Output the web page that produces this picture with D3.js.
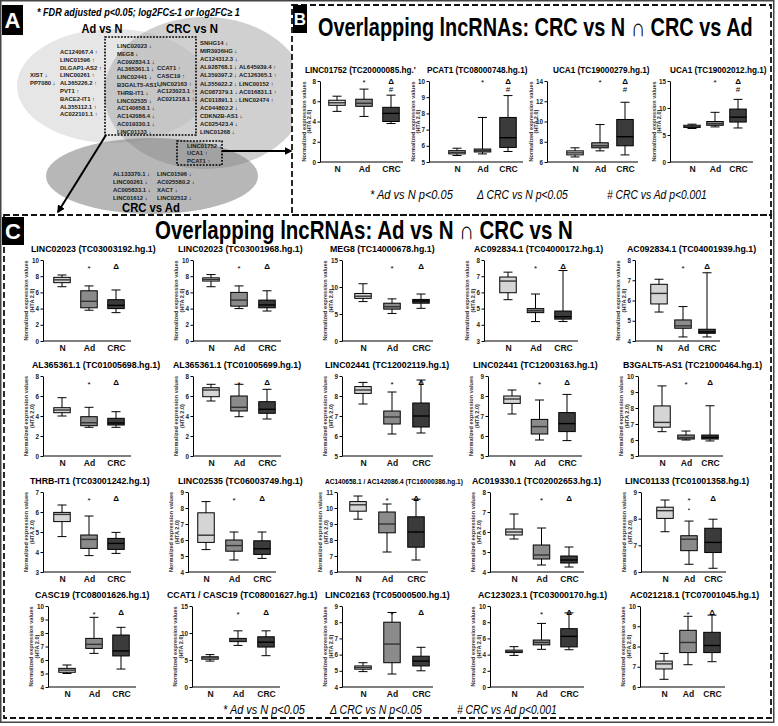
<!DOCTYPE html>
<html><head><meta charset="utf-8">
<script src="https://cdn.jsdelivr.net/npm/d3@7"></script>
<style>
body{margin:0;background:#fff}
svg{display:block}
text{font-family:'Liberation Sans',Arial,Helvetica,sans-serif}
</style>
</head><body>
<svg id="fig" width="778" height="726"></svg>
<script>
// ---------------- DATA ----------------
const groups = ["N","Ad","CRC"];

// Panel A gene lists
const adOnlyLeft = [["XIST","↓"],["PP7080","↓"]];
const adOnly = [["AC124067.4","↑"],["LINC01596","↑"],["DLGAP1-AS2","↑"],["LINC00261","↑"],["AL365226.2","↑"],["PVT1","↑"],["BACE2-IT1","↑"],["AL355112.1","↑"],["AC022101.1","↑"]];
const adCrcDown = ["LINC02023","MEG8","AC092834.1","AL365361.1","LINC02441","B3GALT5-AS1","THRB-IT1","LINC02535","AC140658.1","AC142086.4","AC019330.1","LINC01133"];
const adCrcUp = ["CCAT1","CASC19","LINC02163","AC123023.1","AC021218.1"];
const crcOnlyDown = ["SNHG14","MIR3936HG","AC124312.3","AL928768.1","AL359397.2","AL355922.2","AC087379.1","AC011891.1","AC044802.2","CDKN2B-AS1","AC025423.4","LINC01268"];
const crcOnlyUp = ["AL645939.4","AC126365.1","LINC00152","AC016831.1","LINC02474"];
const crcBoth = [["LINC01752","↓"],["UCA1","↑"],["PCAT1","↑"]];
const crcAdCol1 = ["AL133370.1","LINC00261","AC005833.1","LINC01612"];
const crcAdCol2 = ["LINC01596","AC025580.2","XACT","LINC02512"];

// Panel B: [lowWhisker, Q1, median, Q3, highWhisker] for N, Ad, CRC
const bTitles = ["LINC01752 (TC20000085.hg.'","PCAT1 (TC08000748.hg.1)","UCA1 (TC19000279.hg.1)","UCA1 (TC19002012.hg.1)"];
const bDomains = [[0,8],[5,10],[6,14],[0,15]];
const bTicks = [[0,2,4,6,8],[5,6,7,8,9,10],[6,8,10,12,14],[0,5,10,15]];
const bStats = [
  [[5.0,5.6,5.85,6.1,6.5],[4.5,5.5,5.8,6.2,7.2],[3.8,4.0,4.8,5.4,6.6]],
  [[5.4,5.5,5.6,5.7,5.85],[5.5,5.62,5.7,5.8,7.75],[5.65,5.9,6.5,7.75,9.1]],
  [[6.5,6.7,6.9,7.1,7.4],[7.1,7.4,7.6,7.9,9.7],[6.7,7.6,8.5,10.2,11.9]],
  [[6.2,6.4,6.6,6.8,7.0],[6.5,6.8,7.1,7.5,9.2],[6.3,7.4,8.3,9.8,11.6]]
];

// Panel C
const cTitles = [
  "LINC02023 (TC03003192.hg.1)","LINC02023 (TC03001968.hg.1)","MEG8 (TC14000678.hg.1)","AC092834.1 (TC04000172.hg.1)","AC092834.1 (TC04001939.hg.1)",
  "AL365361.1 (TC01005698.hg.1)","AL365361.1 (TC01005699.hg.1)","LINC02441 (TC12002119.hg.1)","LINC02441 (TC12003163.hg.1)","B3GALT5-AS1 (TC21000464.hg.1)",
  "THRB-IT1 (TC03001242.hg.1)","LINC02535 (TC06003749.hg.1)","AC140658.1 / AC142086.4 (TC16000386.hg.1)","AC019330.1 (TC02002653.hg.1)","LINC01133 (TC01001358.hg.1)",
  "CASC19 (TC08001626.hg.1)","CCAT1 / CASC19 (TC08001627.hg.1)","LINC02163 (TC05000500.hg.1)","AC123023.1 (TC03000170.hg.1)","AC021218.1 (TC07001045.hg.1)"
];
const cDomains = [
  [0,10],[0,10],[0,15],[3,8],[4,8],
  [0,8],[0,8],[5,9],[5,9],[5,10],
  [3,7],[4,9],[6,11],[4,8],[6,9],
  [4,10],[0,15],[4,9],[0,10],[6,10]
];
const cTicks = [
  [0,2,4,6,8,10],[0,2,4,6,8,10],[0,5,10,15],[3,4,5,6,7,8],[4,5,6,7,8],
  [0,2,4,6,8],[0,2,4,6,8],[5,6,7,8,9],[5,6,7,8,9],[5,6,7,8,9,10],
  [3,4,5,6,7],[4,5,6,7,8,9],[6,7,8,9,10,11],[4,5,6,7,8],[6,7,8,9],
  [4,5,6,7,8,9,10],[0,5,10,15],[4,5,6,7,8,9],[0,2,4,6,8,10],[6,7,8,9,10]
];
const cStats = [
  [[6.7,7.2,7.55,7.86,8.15],[3.8,4.1,4.9,6.2,6.8],[3.5,4.0,4.4,5.1,6.3]],
  [[6.7,7.4,7.6,7.8,8.2],[4.0,4.3,5.05,6.0,6.8],[3.7,4.1,4.45,5.05,6.2]],
  [[7.3,7.9,8.3,8.8,10.6],[5.1,5.9,6.35,7.0,7.8],[6.05,7.0,7.4,7.7,8.7]],
  [[5.55,5.98,6.7,6.95,7.25],[4.2,4.75,4.87,5.0,5.9],[4.2,4.35,4.5,4.85,7.35]],
  [[5.43,5.83,6.35,6.8,7.05],[4.2,4.63,4.75,5.04,5.7],[4.2,4.38,4.45,4.58,7.37]],

  [[4.0,4.33,4.6,4.83,5.83],[2.87,3.03,3.33,3.93,4.87],[2.87,3.1,3.3,3.77,4.43]],
  [[5.5,5.93,6.6,6.83,7.17],[3.93,4.5,4.87,6.0,7.17],[3.7,4.27,4.67,5.43,6.67]],
  [[7.6,8.13,8.3,8.47,8.68],[6.1,6.6,6.95,7.25,8.2],[6.15,6.45,7.0,7.65,8.8]],
  [[7.1,7.63,7.85,8.0,8.3],[5.8,6.1,6.47,6.83,7.8],[5.77,6.22,6.62,7.17,8.08]],
  [[6.52,6.8,7.1,8.13,9.38],[6.0,6.06,6.15,6.31,6.56],[5.94,6.06,6.16,6.31,8.14]],

  [[4.77,5.52,5.88,5.98,6.35],[3.82,4.18,4.63,4.85,5.8],[3.93,4.13,4.43,4.68,4.98]],
  [[5.4,5.85,6.3,7.7,8.4],[4.75,5.3,5.65,6.0,6.5],[4.85,5.1,5.45,5.95,6.5]],
  [[9.3,9.8,10.2,10.4,10.75],[7.25,8.45,9.0,9.75,10.25],[6.75,7.55,8.5,9.45,10.55]],
  [[5.65,5.85,6.0,6.15,6.9],[4.35,4.65,4.85,5.35,6.2],[4.25,4.45,4.6,4.8,5.25]],
  [[7.51,8.01,8.3,8.43,8.7],[6.29,6.8,7.23,7.36,7.91],[6.14,6.73,7.11,7.64,7.98]],

  [[5.0,5.09,5.25,5.38,5.63],[6.49,6.86,7.16,7.6,9.16],[5.33,6.3,6.67,7.85,8.42]],
  [[4.8,5.15,5.4,5.6,6.0],[7.7,8.4,8.7,9.0,10.4],[5.8,7.4,8.3,9.3,10.4]],
  [[4.95,5.1,5.2,5.3,5.5],[4.8,5.5,6.65,8.0,8.6],[5.0,5.3,5.6,5.9,6.45]],
  [[3.9,4.25,4.4,4.55,4.98],[4.65,5.2,5.5,5.8,7.85],[4.6,4.95,6.25,7.2,9.15]],
  [[6.38,6.89,7.14,7.28,7.66],[7.1,7.7,8.2,8.8,9.49],[7.25,7.7,8.05,8.7,9.55]]
];
// outlier points: [chart index, group, value]
const cOutliers = [[14,"Ad",8.35]];

const legendItems = ["* Ad vs N p<0.05","Δ CRC vs N p<0.05","# CRC vs Ad p<0.001"];

// ---------------- LAYOUT ----------------
const svg = d3.select("#fig");
const fillCols = {"N":"#d5d5d5","Ad":"#8b8b8b","CRC":"#3b3b3b"};

// text squeezed horizontally to a target width (keeps real geometry)
function fitText(parent, str, x, y, width, attrs, anchor){
  const t = parent.append("text").text(str);
  Object.entries(attrs).forEach(([k,v])=>t.attr(k,v));
  const w = t.node().getComputedTextLength();
  const k = width / w;
  const x0 = anchor==="middle" ? x - width/2 : x;
  t.attr("transform",`translate(${x0},${y}) scale(${k},1)`);
  return t;
}

svg.append("rect").attr("x",0.75).attr("y",0.75).attr("width",773).attr("height",721.5)
  .attr("fill","#fff").attr("stroke","#444").attr("stroke-width",1.5);

// ---------- Panel A : Venn ----------
const clipA = svg.append("clipPath").attr("id","clipA");
clipA.append("rect").attr("x",1).attr("y",1).attr("width",291).attr("height",214);
const venn = svg.append("g").attr("clip-path","url(#clipA)");
venn.append("ellipse").attr("cx",113).attr("cy",86).attr("rx",96).attr("ry",57).attr("fill","#e6e6e6");
venn.append("ellipse").attr("cx",205).attr("cy",93).attr("rx",101).attr("ry",76).attr("fill","#b0b0b0").attr("fill-opacity",0.6);
venn.append("ellipse").attr("cx",152).attr("cy",176).attr("rx",106).attr("ry",38).attr("fill","#7c7c7c").attr("fill-opacity",0.55);

const boldAttrs = {"font-size":12,"font-weight":"bold"};
fitText(svg,"Ad vs N",102,33,41,boldAttrs,"middle");
fitText(svg,"CRC vs N",192,33,52,boldAttrs,"middle");
fitText(svg,"CRC vs Ad",151,212,58,boldAttrs,"middle");

fitText(svg,"* FDR adjusted p<0.05; log2FC≤-1 or log2FC≥ 1",37,16,203,
  {"font-size":10.5,"font-style":"italic","font-weight":"bold"});

function geneCol(list, x, y0, dy, arrow){
  list.forEach((d,i)=>{
    const name = Array.isArray(d)? d[0] : d;
    const ar = Array.isArray(d)? d[1] : arrow;
    svg.append("text").attr("x",x).attr("y",y0+i*dy).attr("font-size",5.9).attr("font-weight","bold")
      .attr("fill","#1a1a1a").text(name+" "+ar);
  });
}
geneCol(adOnly, 60, 54, 7.8);
geneCol(adOnlyLeft, 30, 54+3*7.8, 7.8);
geneCol(adCrcDown, 117, 48, 7.8, "↓");
geneCol(adCrcUp, 157, 48+3*7.8-1.5, 7.8, "↑");
geneCol(crcOnlyDown, 200, 45, 8.1, "↓");
geneCol(crcOnlyUp, 239, 45+3*8.1, 8.1, "↑");
geneCol(crcBoth, 187, 148, 7.3);
geneCol(crcAdCol1, 113, 176, 8, "↓");
geneCol(crcAdCol2, 157, 176, 8, "↓");

// dotted boxes
svg.append("rect").attr("x",105).attr("y",37).attr("width",91).attr("height",98)
  .attr("fill","none").attr("stroke","#000").attr("stroke-width",1.6).attr("stroke-dasharray","1.8,1.4");
svg.append("rect").attr("x",177).attr("y",141).attr("width",45).attr("height",24)
  .attr("fill","none").attr("stroke","#000").attr("stroke-width",1.6).attr("stroke-dasharray","1.8,1.4");

// arrows
const defs = svg.append("defs");
defs.append("marker").attr("id","ah").attr("viewBox","0 0 10 10").attr("refX",8).attr("refY",5)
  .attr("markerWidth",4).attr("markerHeight",4).attr("orient","auto")
  .append("path").attr("d","M0,0L10,5L0,10Z").attr("fill","#000");
svg.append("line").attr("x1",106).attr("y1",135).attr("x2",58).attr("y2",212)
  .attr("stroke","#000").attr("stroke-width",2).attr("marker-end","url(#ah)");
svg.append("line").attr("x1",222).attr("y1",151).attr("x2",291).attr("y2",151)
  .attr("stroke","#000").attr("stroke-width",2).attr("marker-end","url(#ah)");

// ---------- panel frames ----------
svg.append("rect").attr("x",292).attr("y",5).attr("width",479).attr("height",210)
  .attr("fill","none").attr("stroke","#111").attr("stroke-width",1.8).attr("stroke-dasharray","6,3");
svg.append("rect").attr("x",4).attr("y",215).attr("width",767).attr("height",503)
  .attr("fill","none").attr("stroke","#111").attr("stroke-width",1.8).attr("stroke-dasharray","6,3");

function panelLabel(t,x,y,w,h,fs){
  svg.append("rect").attr("x",x).attr("y",y).attr("width",w).attr("height",h).attr("fill","#000");
  svg.append("text").attr("x",x+w/2).attr("y",y+h/2+fs*0.36).attr("text-anchor","middle")
    .attr("font-size",fs).attr("font-weight","bold").attr("fill","#fff").text(t);
}
panelLabel("A",2,5,21,30,22);
panelLabel("B",293,5,14,28,17);
panelLabel("C",2,217,22,28,22);

fitText(svg,"Overlapping lncRNAs: CRC vs N ∩ CRC vs Ad",318,36,435,{"font-size":25,"font-weight":"bold"});
fitText(svg,"Overlapping lncRNAs: Ad vs N  ∩  CRC vs N",155,239,418,{"font-size":25,"font-weight":"bold"});

// ---------- box chart helper ----------
function boxChart(o){
  const g = svg.append("g");
  const y = d3.scaleLinear().domain(o.domain).range([o.bottom, o.top]);
  const x = d3.scalePoint().domain(groups).range([o.xN, o.xC]);

  if (o.titleLen) fitText(g,o.title,o.titleX,o.top-8,o.titleLen,{"font-size":o.titleSize,"font-weight":"bold"});
  else g.append("text").attr("x",o.titleX).attr("y",o.top-8).attr("font-size",o.titleSize)
    .attr("font-weight","bold").text(o.title);

  const ya = g.append("g").attr("transform",`translate(${o.ax},0)`)
    .call(d3.axisLeft(y).tickValues(o.ticks).tickFormat(d3.format("d")).tickSize(2.5).tickSizeOuter(0).tickPadding(1.5));
  ya.attr("font-family",null).attr("font-size",null);
  ya.selectAll("text").attr("font-size",6.3).attr("font-weight","bold").attr("fill","#222");
  ya.selectAll("path,line").attr("stroke","#000").attr("stroke-width",1);

  const xa = g.append("g").attr("transform",`translate(0,${o.bottom})`)
    .call(d3.axisBottom(x).tickSize(0).tickSizeOuter(0).tickPadding(4));
  xa.attr("font-family",null).attr("font-size",null);
  xa.select(".domain").attr("d",`M${o.ax},0H${o.xEnd}`).attr("stroke","#000").attr("stroke-width",1.2);
  xa.selectAll("text").attr("font-size",8.6).attr("font-weight","bold").attr("fill","#111");

  const cy = (o.top+o.bottom)/2;
  g.append("text").attr("transform",`translate(${o.ax+o.yt1},${cy}) rotate(-90)`).attr("text-anchor","middle")
    .attr("font-size",5.6).attr("font-weight","bold").attr("fill","#333").text("Normalized expression values");
  g.append("text").attr("transform",`translate(${o.ax+o.yt2},${cy}) rotate(-90)`).attr("text-anchor","middle")
    .attr("font-size",5.6).attr("font-weight","bold").attr("fill","#333").text("(HTA 2.0)");

  const bw = 16.5, cw = 9;
  const bx = g.selectAll("g.bx").data(o.stats.map((s,i)=>({g:groups[i],s}))).join("g").attr("class","bx");
  bx.append("line").attr("x1",d=>x(d.g)).attr("x2",d=>x(d.g)).attr("y1",d=>y(d.s[0])).attr("y2",d=>y(d.s[4]))
    .attr("stroke","#000").attr("stroke-width",1);
  bx.append("line").attr("x1",d=>x(d.g)-cw/2).attr("x2",d=>x(d.g)+cw/2).attr("y1",d=>y(d.s[0])).attr("y2",d=>y(d.s[0]))
    .attr("stroke","#000").attr("stroke-width",1);
  bx.append("line").attr("x1",d=>x(d.g)-cw/2).attr("x2",d=>x(d.g)+cw/2).attr("y1",d=>y(d.s[4])).attr("y2",d=>y(d.s[4]))
    .attr("stroke","#000").attr("stroke-width",1);
  bx.append("rect").attr("x",d=>x(d.g)-bw/2).attr("width",bw).attr("y",d=>y(d.s[3]))
    .attr("height",d=>Math.max(1,y(d.s[1])-y(d.s[3]))).attr("fill",d=>fillCols[d.g])
    .attr("stroke","#000").attr("stroke-width",1);
  bx.append("line").attr("x1",d=>x(d.g)-bw/2).attr("x2",d=>x(d.g)+bw/2).attr("y1",d=>y(d.s[2])).attr("y2",d=>y(d.s[2]))
    .attr("stroke",d=>d.g==="CRC"?"#000":"#333").attr("stroke-width",1.4);

  (o.outliers||[]).forEach(p=>{
    g.append("circle").attr("cx",x(p[0])).attr("cy",y(p[1])).attr("r",0.9).attr("fill","#333");
  });

  g.append("text").attr("x",x("Ad")).attr("y",o.top+o.starOff).attr("text-anchor","middle")
    .attr("font-size",8).attr("font-family","'Liberation Serif',serif").text("*");
  g.append("text").attr("x",x("CRC")).attr("y",o.top+o.deltaOff).attr("text-anchor","middle")
    .attr("font-size",8).attr("font-weight","bold").attr("font-family","'Liberation Serif',serif").text("Δ");
  if (o.hash) g.append("text").attr("x",x("CRC")).attr("y",o.top+o.deltaOff+8).attr("text-anchor","middle")
    .attr("font-size",8).attr("font-family","'Liberation Serif',serif").text("#");
}

// ---------- Panel B ----------
const bAxisX = [320,429,547,670], bN=[337,457,575,692], bC=[391,508,625,738], bEnd=[403,523,638,753], bTitleX=[305,427,553,670];
bTitles.forEach((t,i)=>{
  boxChart({title:t,titleX:bTitleX[i],titleSize:8.2,domain:bDomains[i],ticks:bTicks[i],stats:bStats[i],
    ax:bAxisX[i],xN:bN[i],xC:bC[i],xEnd:bEnd[i],top:81,bottom:162,yt1:-14.5,yt2:-9.5,
    starOff:4,deltaOff:3,hash:true});
});

function legend(xs, y, lens){
  legendItems.forEach((t,i)=>{
    fitText(svg,t,xs[i],y,lens[i],{"font-size":12,"font-style":"italic"});
  });
}
legend([370,477,607],199,[83,91,100]);

// ---------- Panel C ----------
const cAxisX = [[43,193,342,484,635],[43,193,342,488,638],[43,188,337,490,641],[48,192,342,490,640]];
const cTop = [260,376,492,606], cBottom = [341,456,572,687];
const colOff = [[19,73,88],[18,74,88],[21,79,91],[24,79,94],[24,72,85]];
const cTitleX = [[31,178,330,474,627],[32,173,325,473,623],[30,178,325,472,625],[35,167,325,478,630]];
cTitles.forEach((t,k)=>{
  const r = Math.floor(k/5), c = k%5, ax = cAxisX[r][c];
  const small = t.length > 35;
  boxChart({title:t,titleX:cTitleX[r][c],titleSize: small?6.6:8.8,titleLen: small?138:null,
    domain:cDomains[k],ticks:cTicks[k],stats:cStats[k],
    ax:ax,xN:ax+colOff[c][0],xC:ax+colOff[c][1],xEnd:ax+colOff[c][2],top:cTop[r],bottom:cBottom[r],
    yt1:-15,yt2:-9.5,starOff:11,deltaOff:9,hash:false,
    outliers:cOutliers.filter(o=>o[0]===k).map(o=>[o[1],o[2]])});
});
legend([223,330,457],714,[82,92,100]);
</script>
</body></html>
